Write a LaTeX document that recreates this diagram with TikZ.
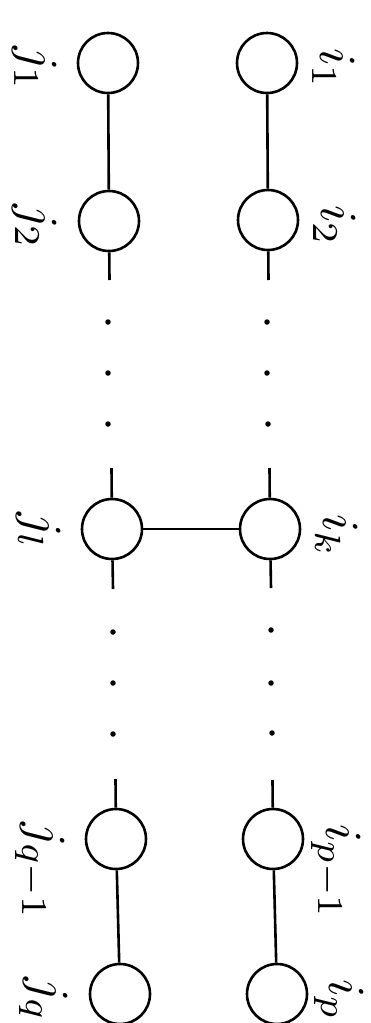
\documentclass[tikz,border=0pt]{standalone}
\begin{document}
\begin{tikzpicture}[x=1pt,y=-1pt,
  vtx/.style={circle,draw,line width=2.6pt,minimum size=60pt,inner sep=0pt},
  lab/.style={rotate=-90,anchor=base west,inner sep=0pt,scale=5.2},
  dotnode/.style={circle,fill,inner sep=0pt,minimum size=5.5pt},
  edge/.style={line width=2.6pt}]
\useasboundingbox (0,0) rectangle (371,1023);
% i column
\node[vtx] (i1) at (267,63) {};
\node[vtx] (i2) at (268,220) {};
\node[vtx] (ik) at (270,529) {};
\node[vtx] (ip1) at (273,839) {};
\node[vtx] (ip) at (277,994) {};
% j column
\node[vtx] (j1) at (108,63) {};
\node[vtx] (j2) at (109,221) {};
\node[vtx] (jl) at (112,529) {};
\node[vtx] (jq1) at (116,839) {};
\node[vtx] (jq) at (120,994) {};
% stub ends
\coordinate (i2s) at (268.5,280);
\coordinate (iks1) at (269.5,468);
\coordinate (iks2) at (271,588);
\coordinate (ip1s) at (272.5,780);
\coordinate (j2s) at (109.5,280);
\coordinate (jls1) at (111.5,468);
\coordinate (jls2) at (113,589);
\coordinate (jq1s) at (115.5,779);
% edges
\draw[edge] (i1) -- (i2);
\draw[edge] (ip1) -- (ip);
\draw[edge] (j1) -- (j2);
\draw[edge] (jq1) -- (jq);
\draw[edge] (ik) -- (jl);
\draw[edge] (i2) -- (i2s);
\draw[edge] (iks1) -- (ik);
\draw[edge] (ik) -- (iks2);
\draw[edge] (ip1s) -- (ip1);
\draw[edge] (j2) -- (j2s);
\draw[edge] (jls1) -- (jl);
\draw[edge] (jl) -- (jls2);
\draw[edge] (jq1s) -- (jq1);
% dots
\node[dotnode] (di1) at (267,322) {};
\node[dotnode] (di2) at (267,373) {};
\node[dotnode] (di3) at (268,424) {};
\node[dotnode] (di4) at (271,630) {};
\node[dotnode] (di5) at (271,683) {};
\node[dotnode] (di6) at (272,733) {};
\node[dotnode] (dj1) at (108,322) {};
\node[dotnode] (dj2) at (108,373) {};
\node[dotnode] (dj3) at (108,424) {};
\node[dotnode] (dj4) at (113,632) {};
\node[dotnode] (dj5) at (113,683) {};
\node[dotnode] (dj6) at (113,734) {};
% labels
\node[lab] (li1) at (320,47) {$i_1$};
\node[lab] (li2) at (321,204) {$i_2$};
\node[lab] (lik) at (323,513) {$i_k$};
\node[lab] (lip1) at (326,823) {$i_{p-1}$};
\node[lab] (lip) at (329,978) {$i_p$};
\node[lab] (lj1) at (22,45) {$j_1$};
\node[lab] (lj2) at (23,203) {$j_2$};
\node[lab] (ljl) at (26,511) {$j_l$};
\node[lab] (ljq1) at (30,821) {$j_{q-1}$};
\node[lab] (ljq) at (34,976) {$j_q$};
\end{tikzpicture}
\end{document}
